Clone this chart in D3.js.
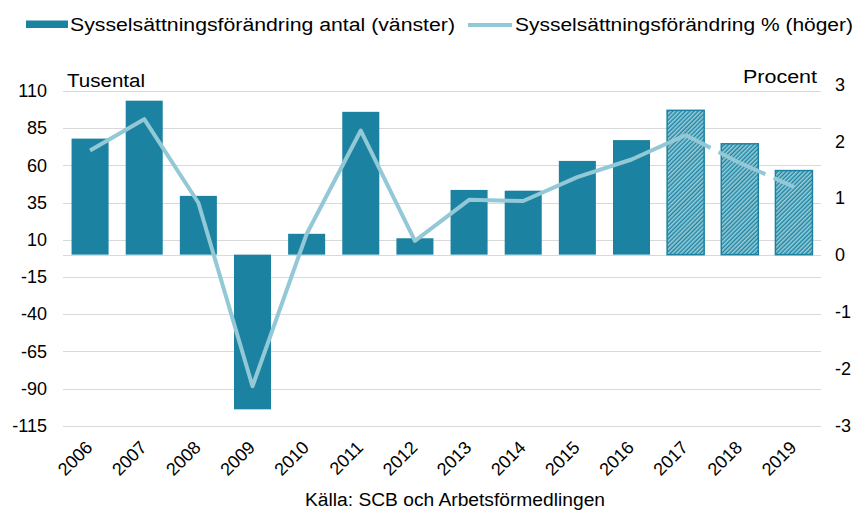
<!DOCTYPE html>
<html>
  <head>
    <meta charset='utf-8' />
    <title>Sysselsättningsförändring</title>
    <script src="https://d3js.org/d3.v7.min.js"></script>
    <style>
body {
  margin: 0;
  font-family: "Liberation Sans", Arial, sans-serif;
  background: #fff;
}
.grid line {
  stroke: #d9d9d9;
  stroke-width: 1px;
  shape-rendering: crispEdges;
}
.axis text, .label, .legend text {
  font-size: 18px;
  fill: #000;
}
.axis path, .axis line {
  display: none;
}
    </style>
  </head>
  <body>
    <div id="graphic"></div>
    <script>
      // data
      const years = ["2006", "2007", "2008", "2009", "2010", "2011", "2012",
                     "2013", "2014", "2015", "2016", "2017", "2018", "2019"];
      // tusental, vänster axel
      const antal = [78, 103.5, 39.5, -104, 14, 96, 11, 43.5, 43, 63, 77, 97, 74.5, 56.5];
      // procent, höger axel
      const procent = [1.84, 2.39, 0.92, -2.31, 0.37, 2.19, 0.25, 0.97, 0.95, 1.37, 1.68, 2.11, 1.62, 1.20];
      // prognosår (streckade)
      const prognos = ["2017", "2018", "2019"];

      const leftTicks = [110, 85, 60, 35, 10, -15, -40, -65, -90, -115];
      const rightTicks = [3, 2, 1, 0, -1, -2, -3];

      const barColor = "#1b83a1";
      const lineColor = "#93c8d6";

      const width = 856, height = 512;
      const plot = { left: 63, right: 821, top: 91, bottom: 425.7 };

      const svg = d3.select("#graphic").append("svg")
        .attr("width", width)
        .attr("height", height);

      // hatch for forecast bars
      const defs = svg.append("defs");
      defs.append("pattern")
        .attr("id", "hatch")
        .attr("patternUnits", "userSpaceOnUse")
        .attr("width", 3)
        .attr("height", 3)
        .attr("patternTransform", "rotate(45)")
        .call(p => {
          p.append("rect").attr("width", 3).attr("height", 3).attr("fill", barColor);
          p.append("line").attr("x1", 0.8).attr("y1", 0).attr("x2", 0.8).attr("y2", 3)
            .attr("stroke", "#a3d2de").attr("stroke-width", 1.5);
        });

      const x = d3.scaleBand()
        .domain(years)
        .range([plot.left, plot.right])
        .paddingInner(0.316)
        .paddingOuter(0.158);

      const yL = d3.scaleLinear().domain([-115, 110]).range([plot.bottom, plot.top]);
      const yR = d3.scaleLinear().domain([-3, 3]).range([425.5, 84.5]);

      const fmt = d => String(d); // plain hyphen minus, like the original

      // gridlines
      svg.append("g")
        .attr("class", "grid")
        .attr("transform", "translate(" + plot.left + ",0)")
        .call(d3.axisLeft(yL).tickValues(leftTicks.concat([0]))
          .tickSize(-(plot.right - plot.left)).tickFormat(""))
        .call(g => g.select(".domain").remove());

      // left axis labels
      svg.append("g")
        .attr("class", "axis")
        .attr("transform", "translate(55,0)")
        .call(d3.axisLeft(yL).tickValues(leftTicks).tickSize(0).tickPadding(8).tickFormat(fmt));

      // right axis labels
      svg.append("g")
        .attr("class", "axis")
        .attr("transform", "translate(827,0)")
        .call(d3.axisRight(yR).tickValues(rightTicks).tickSize(0).tickPadding(8).tickFormat(fmt));

      // x axis labels
      svg.append("g")
        .attr("class", "axis")
        .attr("transform", "translate(0,439)")
        .call(d3.axisBottom(x).tickSize(0).tickPadding(0))
        .selectAll("text")
        .attr("text-anchor", "end")
        .attr("dy", "0.75em")
        .attr("transform", "translate(-6,0) rotate(-45)");

      // bars
      svg.append("g")
        .selectAll("rect")
        .data(years)
        .join("rect")
        .attr("x", d => x(d))
        .attr("width", x.bandwidth())
        .attr("y", (d, i) => yL(Math.max(0, antal[i])))
        .attr("height", (d, i) => Math.abs(yL(antal[i]) - yL(0)))
        .attr("fill", d => prognos.includes(d) ? "url(#hatch)" : barColor)
        .attr("stroke", d => prognos.includes(d) ? barColor : "none")
        .attr("stroke-width", 1.5);

      // line
      const pts = years.map((d, i) => [x(d) + x.bandwidth() / 2, yR(procent[i])]);
      const firstPrognos = years.indexOf(prognos[0]);
      const line = d3.line();

      svg.append("path")
        .attr("d", line(pts.slice(0, firstPrognos + 1)))
        .attr("fill", "none")
        .attr("stroke", lineColor)
        .attr("stroke-width", 4)
        .attr("stroke-linejoin", "round");

      for (let i = firstPrognos; i < pts.length - 1; i++) {
        svg.append("path")
          .attr("d", line([pts[i], pts[i + 1]]))
          .attr("fill", "none")
          .attr("stroke", lineColor)
          .attr("stroke-width", 4)
          .attr("stroke-dasharray", "28,9");
      }

      // texts stretched to the widths measured in the original
      const stretch = (sel, w) => sel.attr("textLength", w).attr("lengthAdjust", "spacingAndGlyphs");

      // axis titles
      svg.append("text").attr("class", "label")
        .attr("x", 67).attr("y", 87).call(stretch, 78).text("Tusental");
      svg.append("text").attr("class", "label")
        .attr("x", 743).attr("y", 83).call(stretch, 74).text("Procent");

      // legend
      const legend = svg.append("g").attr("class", "legend");
      legend.append("rect")
        .attr("x", 26).attr("y", 20.5).attr("width", 42).attr("height", 7.5)
        .attr("fill", barColor);
      legend.append("text")
        .attr("x", 70).attr("y", 31).call(stretch, 385)
        .text("Sysselsättningsförändring antal (vänster)");
      legend.append("line")
        .attr("x1", 468).attr("x2", 512).attr("y1", 25).attr("y2", 25)
        .attr("stroke", lineColor).attr("stroke-width", 4);
      legend.append("text")
        .attr("x", 515).attr("y", 31).call(stretch, 338)
        .text("Sysselsättningsförändring % (höger)");

      // source
      svg.append("text").attr("class", "label")
        .attr("x", 305).attr("y", 506).call(stretch, 300)
        .text("Källa: SCB och Arbetsförmedlingen");
    </script>
  </body>
</html>
